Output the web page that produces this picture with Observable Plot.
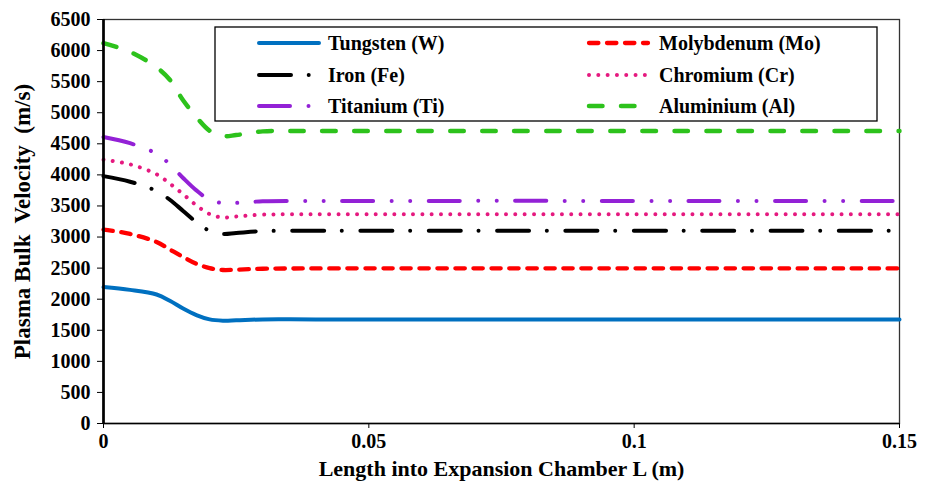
<!DOCTYPE html>
<html><head><meta charset="utf-8">
<script src="https://cdn.jsdelivr.net/npm/d3@7"></script>
<script src="https://cdn.jsdelivr.net/npm/@observablehq/plot@0.6"></script>
<style>
body{margin:0;background:#fff}
</style>
</head><body><div id="chart"></div>
<script>
// Length into expansion chamber (m)
const L = [0, 0.005, 0.01, 0.0125, 0.015, 0.0175, 0.02, 0.0225, 0.025, 0.03, 0.04, 0.15];
// Plasma bulk velocity (m/s)
const tungsten   = [2195, 2150, 2075, 1975, 1850, 1745, 1675, 1655, 1660, 1675, 1675, 1675];
const molybdenum = [3120, 3050, 2920, 2800, 2680, 2570, 2500, 2470, 2475, 2490, 2495, 2495];
const iron       = [3980, 3890, 3740, 3600, 3420, 3240, 3100, 3050, 3065, 3095, 3100, 3100];
const chromium   = [4245, 4170, 4010, 3860, 3690, 3510, 3370, 3315, 3330, 3360, 3365, 3365];
const titanium   = [4610, 4510, 4340, 4170, 3950, 3750, 3600, 3545, 3550, 3575, 3580, 3580];
const aluminium  = [6120, 5980, 5730, 5530, 5200, 4930, 4710, 4625, 4640, 4700, 4705, 4705];

const seriesNames = ["Tungsten (W)", "Molybdenum (Mo)", "Iron (Fe)", "Chromium (Cr)", "Titanium (Ti)", "Aluminium (Al)"];
const seriesValues = [tungsten, molybdenum, iron, chromium, titanium, aluminium];
const yTicks = [0, 500, 1000, 1500, 2000, 2500, 3000, 3500, 4000, 4500, 5000, 5500, 6000, 6500];
const xTicks = [0, 0.05, 0.1, 0.15];
const xTickLabels = ["0", "0.05", "0.1", "0.15"];
const xTitle = "Length into Expansion Chamber L (m)";
const yTitle = "Plasma Bulk  Velocity  (m/s)";

const styles = [
  {stroke: "#0070C0", dash: null, w: 4},
  {stroke: "#FF0000", dash: "9.4,8.6", w: 4.3},
  {stroke: "#000000", dash: "32,17.7,0.01,18.6", w: 4},
  {stroke: "#E5197F", dash: "0.01,9.3", w: 4},
  {stroke: "#9321D6", dash: "31,18.5,0.01,18.5,0.01,18.5", w: 4},
  {stroke: "#2DC21C", dash: "13.5,18.5", w: 4.5}
];

const lineMarks = seriesValues.map((vals, i) => {
  const data = L.map((x, j) => ({x, y: vals[j]}));
  const s = styles[i];
  return Plot.line(data, {x: "x", y: "y", curve: "catmull-rom", stroke: s.stroke, strokeWidth: s.w,
    strokeDasharray: s.dash ?? undefined, strokeLinecap: "round", strokeLinejoin: "round"});
});

const FONT = "Liberation Serif";

const chart = Plot.plot({
  width: 930, height: 489,
  marginLeft: 103, marginRight: 31, marginTop: 19, marginBottom: 66,
  style: {fontFamily: FONT, fontWeight: "bold", fontSize: "20px", color: "#000", background: "#fff"},
  x: {domain: [0, 0.15]},
  y: {domain: [0, 6500]},
  marks: [
    Plot.frame({stroke: "#333", strokeWidth: 1.3}),
    Plot.axisY({ticks: yTicks, tickFormat: d => String(d), tickSize: 6, tickPadding: 7, label: null, fontSize: 20}),
    Plot.axisX({ticks: xTicks, tickFormat: (d, i) => xTickLabels[i], tickSize: 5, tickPadding: 5, label: null, fontSize: 20}),
    ...lineMarks,
    Plot.ruleX([0], {stroke: "#000", strokeWidth: 2.7}),
    Plot.ruleY([0], {stroke: "#000", strokeWidth: 1.7}),
    Plot.text([yTitle], {frameAnchor: "left", dx: -81, rotate: -90, fontSize: 23, lineAnchor: "middle", textAnchor: "middle"}),
    Plot.text([xTitle], {frameAnchor: "bottom", dy: 45, fontSize: 22, lineAnchor: "middle"})
  ]
});
document.getElementById("chart").appendChild(chart);

// Legend (inside plot area, upper right)
const svg = d3.select(chart);
const lg = svg.append("g").attr("font-size", 20).attr("text-anchor", "start");
lg.append("rect").attr("x", 215).attr("y", 27).attr("width", 662).attr("height", 94)
  .attr("fill", "#fff").attr("stroke", "#000").attr("stroke-width", 1.3);
const rowsY = [43, 75, 106];
const cols = [{x1: 259, x2: 319, tx: 328}, {x1: 589, x2: 648, tx: 659}];
seriesNames.forEach((name, i) => {
  const c = cols[i % 2], yy = rowsY[Math.floor(i / 2)], s = styles[i];
  lg.append("line").attr("x1", c.x1).attr("x2", c.x2).attr("y1", yy).attr("y2", yy)
    .attr("stroke", s.stroke).attr("stroke-width", s.w).attr("stroke-linecap", "round")
    .attr("stroke-dasharray", s.dash);
  lg.append("text").attr("x", c.tx).attr("y", yy).attr("dy", "0.35em").attr("text-anchor", "start").attr("fill", "#000").text(name);
});

// Serif bold font on every text element
svg.attr("font-family", FONT).attr("font-weight", "bold");
svg.selectAll("g").each(function() { if (this.getAttribute("font-family")) this.setAttribute("font-family", FONT); });
svg.selectAll("text").attr("font-family", FONT).attr("font-weight", "bold")
  .style("font-family", FONT).style("font-weight", "bold").attr("xml:space", "preserve").style("white-space", "pre");
</script>
</body></html>
